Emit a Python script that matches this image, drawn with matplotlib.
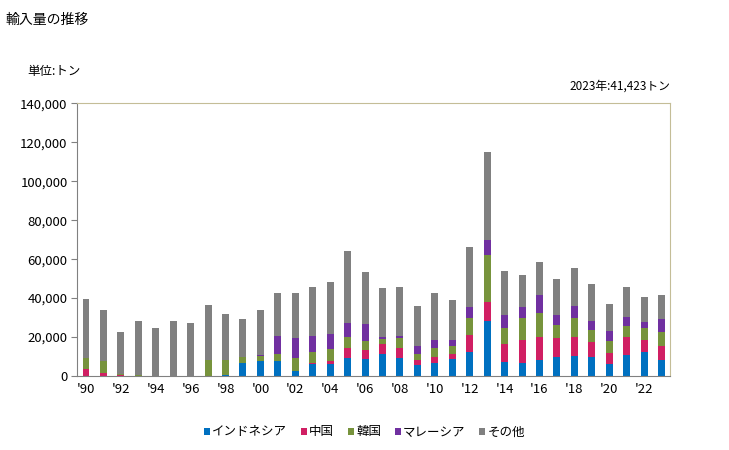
import numpy as np
import matplotlib
matplotlib.use('Agg')
import matplotlib.pyplot as plt

plt.rcParams['font.family'] = ['Noto Sans CJK JP', 'DejaVu Sans']

# Datos (toneladas)
years = list(range(1990, 2024))
indonesia = [0, 0, 0, 0, 0, 0, 0, 0, 500, 6700, 7700, 7700, 2600, 6300, 6300, 9400, 8700,
             11500, 9400, 5600, 6700, 8700, 12500, 28200, 7400, 6700, 8400, 9700, 10400,
             9700, 6300, 10800, 12500, 8400]
china = [3600, 1500, 500, 0, 0, 0, 0, 0, 0, 0, 0, 0, 0, 500, 1400, 5100, 4800,
         4900, 5000, 2600, 3100, 2600, 8500, 9700, 9000, 11800, 11600, 9700, 9600,
         7700, 5500, 9200, 6000, 7000]
korea = [5800, 6200, 700, 500, 0, 0, 0, 8200, 7700, 3000, 2600, 3600, 6800, 5500, 6100, 5500, 4400,
         2600, 5100, 3100, 4600, 4100, 8700, 24100, 8200, 11300, 12300, 6700, 9700,
         6200, 6100, 5600, 6100, 7200]
malaysia = [0, 0, 0, 0, 0, 0, 0, 0, 0, 0, 500, 9200, 10100, 8200, 7700, 7200, 8700,
            1000, 1000, 4100, 4100, 3100, 5600, 7700, 6700, 5600, 9200, 5100, 6200,
            4600, 5100, 4600, 3100, 6600]
otros = [30100, 26100, 21400, 27700, 24600, 28200, 27200, 28200, 23600, 19500, 23000, 22000, 23100,
         25100, 26700, 36900, 26700, 25100, 25100, 20500, 24100, 20500, 30800, 45100,
         22600, 16400, 16900, 18500, 19500, 19000, 13900, 15400, 12800, 12223]

series = [indonesia, china, korea, malaysia, otros]
labels = ['インドネシア', '中国', '韓国', 'マレーシア', 'その他']
colors = ['#0070C0', '#D01F63', '#77933C', '#7030A0', '#808080']

fig = plt.figure(figsize=(7.29, 4.5), dpi=100)
ax = fig.add_axes([0.106, 0.1644, 0.8135, 0.606])

bottom = np.zeros(len(years))
for vals, lab, col in zip(series, labels, colors):
    ax.bar(years, vals, 0.4, bottom=bottom, color=col, label=lab)
    bottom += np.array(vals)

ax.set_xlim(1989.5, 2023.5)
ax.set_ylim(0, 140000)
ax.set_yticks(np.arange(0, 140001, 20000))
ax.set_yticklabels(['{:,}'.format(v) for v in range(0, 140001, 20000)], fontsize=9.5)
ax.set_xticks(years[::2])
ax.set_xticklabels(["'{:02d}".format(y % 100) for y in years[::2]], fontsize=9.5)
ax.tick_params(axis='x', length=0, pad=5)
ax.tick_params(axis='y', length=4, color='#808080', direction='out', pad=3)

ax.spines['left'].set_color('#808080')
ax.spines['bottom'].set_color('#808080')
ax.spines['top'].set_color('#C4BD97')
ax.spines['right'].set_color('#C4BD97')

fig.text(0.008, 0.972, '輸入量の推移', fontsize=10, va='top', ha='left')
fig.text(0.038, 0.84, '単位:トン', fontsize=9, va='center', ha='left')
fig.text(0.919, 0.808, '2023年:41,423トン', fontsize=8.5, va='center', ha='right')

fig.legend(loc='center', bbox_to_anchor=(0.5, 0.04), ncol=5, frameon=False,
           fontsize=9, handlelength=0.5, handleheight=0.5, handletextpad=0.15,
           columnspacing=1.1)

plt.savefig('out.png', dpi=100)
